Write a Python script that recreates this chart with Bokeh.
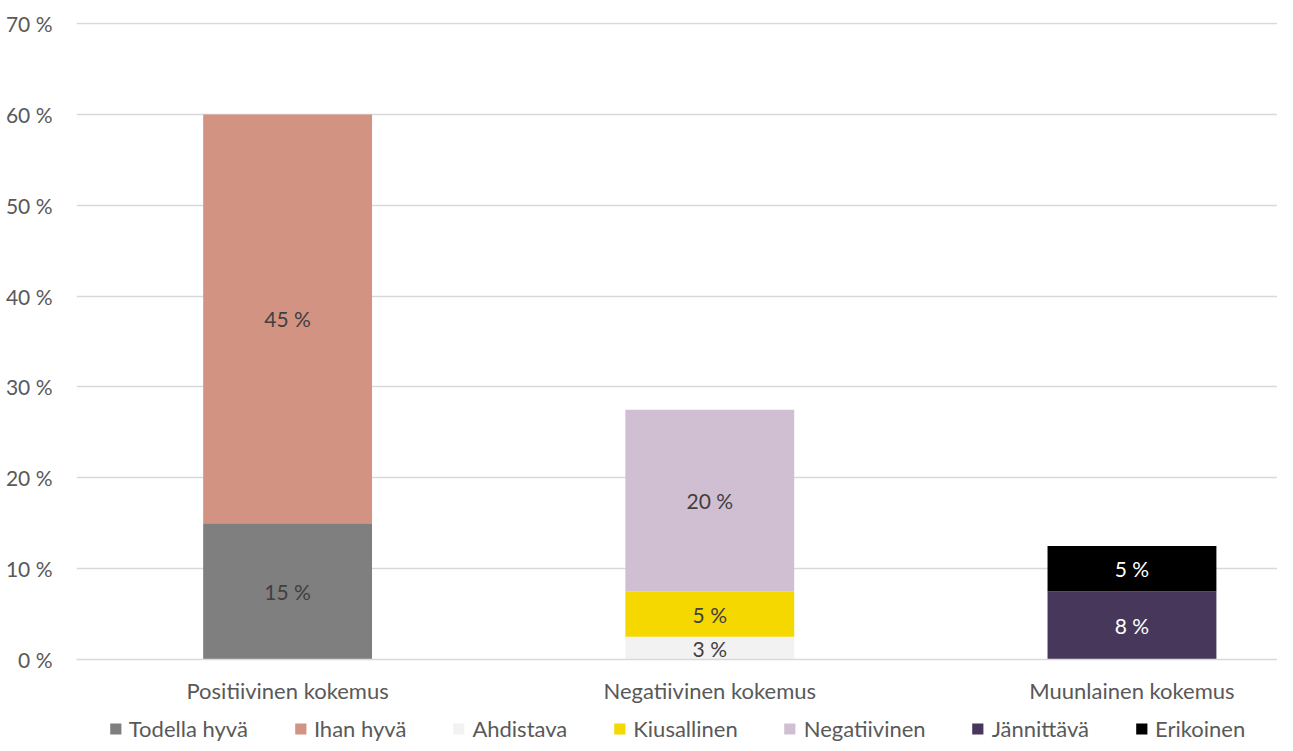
from bokeh.plotting import figure
from bokeh.models import ColumnDataSource, Range1d, FixedTicker, Legend, LegendItem
from bokeh.layouts import column
from bokeh.core.properties import value
from bokeh.embed import file_html
from bokeh.resources import INLINE

categories = ["Positiivinen kokemus", "Negatiivinen kokemus", "Muunlainen kokemus"]
series_names = ["Todella hyvä", "Ihan hyvä", "Ahdistava", "Kiusallinen", "Negatiivinen", "Jännittävä", "Erikoinen"]
series_cat = [0, 0, 1, 1, 1, 2, 2]
series_values = [15, 45, 2.5, 5, 20, 7.5, 5]
series_labels = ["15 %", "45 %", "3 %", "5 %", "20 %", "8 %", "5 %"]
series_colors = ["#7f7f7f", "#d39383", "#f2f2f2", "#f5d800", "#d0bfd3", "#47375a", "#000000"]
label_colors = ["#404040", "#404040", "#404040", "#404040", "#404040", "#ffffff", "#ffffff"]
y_ticks = [0, 10, 20, 30, 40, 50, 60, 70]
y_tick_labels = ["0 %", "10 %", "20 %", "30 %", "40 %", "50 %", "60 %", "70 %"]

FONT = "Lato"
FS_NUM = "21px"
FS_TXT = "22px"

p = figure(width=1277, height=713, output_backend="svg", toolbar_location=None,
           x_range=Range1d(0, 1209 / 425), y_range=Range1d(0, 70.12),
           min_border_left=68, min_border_right=0, min_border_top=22, min_border_bottom=54)
p.outline_line_color = None

# stacking
bottoms = []
tops = []
acc = [0.0, 0.0, 0.0]
for c, v in zip(series_cat, series_values):
    bottoms.append(acc[c])
    acc[c] += v
    tops.append(acc[c])

xs = [c + 0.5 for c in series_cat]
src = ColumnDataSource(dict(x=xs, bottom=bottoms, top=tops,
                            mid=[(b + t) / 2 for b, t in zip(bottoms, tops)],
                            label=series_labels, lcolor=label_colors))

for i in range(len(series_names)):
    p.vbar(x=[xs[i]], bottom=[bottoms[i]], top=[tops[i]], width=0.4,
           fill_color=series_colors[i], line_color=None)

p.text(x="x", y="mid", text="label", text_color="lcolor", source=src,
       text_align="center", text_baseline="middle",
       text_font=value(FONT), text_font_size=FS_NUM)

# axes
p.yaxis.ticker = FixedTicker(ticks=y_ticks)
p.yaxis.major_label_overrides = {t: l for t, l in zip(y_ticks, y_tick_labels)}
p.yaxis.axis_line_color = None
p.yaxis.major_tick_line_color = None
p.yaxis.minor_tick_line_color = None
p.yaxis.major_label_standoff = 18
p.yaxis.major_label_text_font = FONT
p.yaxis.major_label_text_font_size = FS_NUM
p.yaxis.major_label_text_color = "#595959"

p.xaxis.ticker = FixedTicker(ticks=[0.5, 1.5, 2.5])
p.xaxis.major_label_overrides = {0.5: categories[0], 1.5: categories[1], 2.5: categories[2]}
p.xaxis.axis_line_color = "#d9d9d9"
p.xaxis.axis_line_width = 1.5
p.xaxis.major_tick_line_color = None
p.xaxis.minor_tick_line_color = None
p.xaxis.major_label_standoff = 11
p.xaxis.major_label_text_font = FONT
p.xaxis.major_label_text_font_size = FS_TXT
p.xaxis.major_label_text_color = "#595959"

p.xgrid.grid_line_color = None
p.ygrid.ticker = FixedTicker(ticks=y_ticks)
p.ygrid.grid_line_color = "#d9d9d9"
p.ygrid.grid_line_width = 1.5

# legend strip
pl = figure(width=1277, height=30, output_backend="svg", toolbar_location=None,
            x_range=Range1d(0, 1), y_range=Range1d(0, 1),
            min_border_left=76, min_border_right=0, min_border_top=0, min_border_bottom=0)
pl.outline_line_color = None
pl.axis.visible = False
pl.grid.grid_line_color = None
items = []
for i in range(len(series_names)):
    r = pl.vbar(x=[-10], top=[0], width=0.4, fill_color=series_colors[i], line_color=None)
    items.append(LegendItem(label=series_names[i], renderers=[r]))
legend = Legend(items=items, orientation="horizontal", location="center",
                padding=0, margin=0, spacing=45, label_standoff=7,
                glyph_width=14, glyph_height=14,
                label_text_font=FONT, label_text_font_size=FS_TXT, label_text_color="#595959",
                border_line_color=None, background_fill_alpha=0)
pl.add_layout(legend, "center")

layout = column(p, pl, spacing=0)
open("out.html", "w").write(file_html(layout, INLINE))
